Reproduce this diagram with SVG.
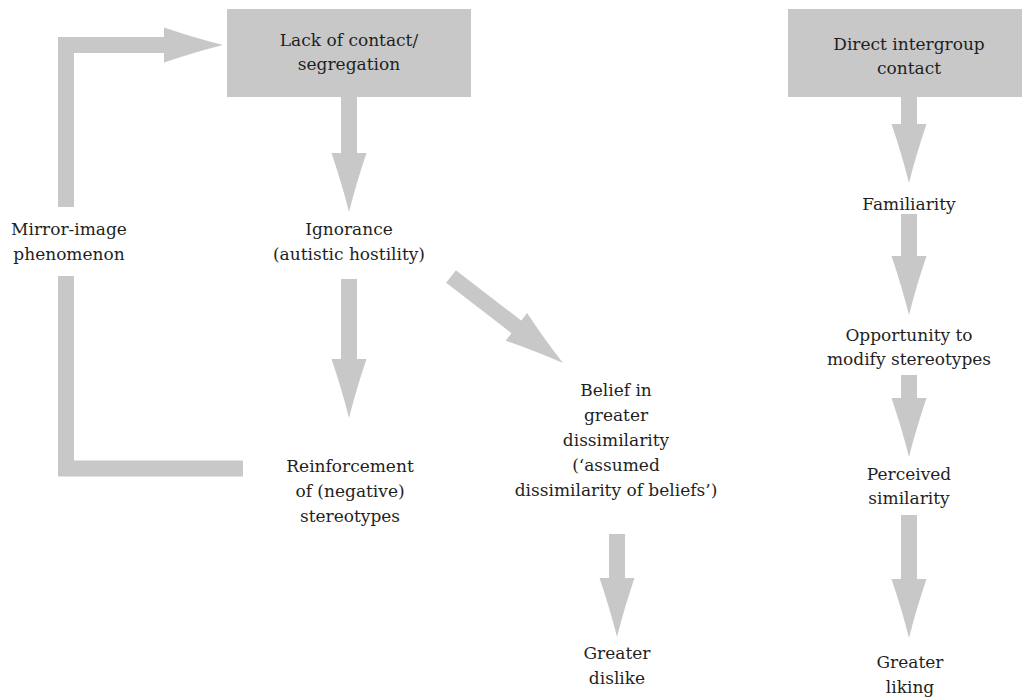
<svg xmlns="http://www.w3.org/2000/svg" xmlns:xlink="http://www.w3.org/1999/xlink" width="1022" height="699" viewBox="0 0 1022 699">
  <style>
    .box { fill: #c8c8c8; }
    .shaft { stroke: #c8c8c8; stroke-width: 16; fill: none; stroke-linecap: butt; }
    .head { fill: #c8c8c8; }
    .lbl { font-family: 'DejaVu Serif', 'Liberation Serif', serif; font-size: 17px; fill: #1f1f1f; text-anchor: middle; }
  </style>
  <defs>
    <!-- arrowhead pointing down, tip at origin, slightly concave flanks -->
    <path id="head" class="head" d="M -17.5,-59 L 17.5,-59 Q 7,-28 0,0 Q -7,-28 -17.5,-59 Z"/>
  </defs>

  <rect width="1022" height="699" fill="#ffffff"/>

  <g id="connectors">
    <!-- Lack of contact -> Ignorance -->
    <line class="shaft" x1="349" y1="96" x2="349" y2="156"/>
    <use xlink:href="#head" transform="translate(349,212)"/>
    <!-- Ignorance -> Reinforcement -->
    <line class="shaft" x1="349" y1="279" x2="349" y2="362"/>
    <use xlink:href="#head" transform="translate(349,418)"/>
    <!-- Ignorance -> Belief in greater dissimilarity -->
    <line class="shaft" x1="451" y1="276.5" x2="521" y2="330.5"/>
    <use xlink:href="#head" transform="translate(563,363) rotate(-52.2)"/>
    <!-- Belief -> Greater dislike -->
    <line class="shaft" x1="617" y1="534" x2="617" y2="581"/>
    <use xlink:href="#head" transform="translate(617,637)"/>
    <!-- Mirror-image loop back to Lack of contact -->
    <path class="shaft" d="M 243,468.5 L 66,468.5 L 66,276"/>
    <path class="shaft" d="M 66,207 L 66,45 L 169,45"/>
    <use xlink:href="#head" transform="translate(223,45) rotate(-90)"/>
    <!-- right column -->
    <line class="shaft" x1="909" y1="96" x2="909" y2="126"/>
    <use xlink:href="#head" transform="translate(909,183)"/>
    <line class="shaft" x1="909" y1="214" x2="909" y2="259"/>
    <use xlink:href="#head" transform="translate(909,315)"/>
    <line class="shaft" x1="909" y1="375" x2="909" y2="401"/>
    <use xlink:href="#head" transform="translate(909,457)"/>
    <line class="shaft" x1="909" y1="515" x2="909" y2="582"/>
    <use xlink:href="#head" transform="translate(909,638)"/>
  </g>

  <g id="lack-of-contact" class="lbl">
    <rect class="box" x="227" y="9" width="244" height="88"/>
    <text x="349" y="46">Lack of contact/</text>
    <text x="349" y="70">segregation</text>
  </g>
  <g id="ignorance" class="lbl">
    <text x="349" y="235">Ignorance</text>
    <text x="349" y="260">(autistic hostility)</text>
  </g>
  <g id="mirror-image" class="lbl">
    <text x="69" y="235">Mirror-image</text>
    <text x="69" y="260">phenomenon</text>
  </g>
  <g id="reinforcement" class="lbl">
    <text x="350" y="472">Reinforcement</text>
    <text x="350" y="497">of (negative)</text>
    <text x="350" y="522">stereotypes</text>
  </g>
  <g id="belief" class="lbl">
    <text x="616" y="396">Belief in</text>
    <text x="616" y="421">greater</text>
    <text x="616" y="446">dissimilarity</text>
    <text x="616" y="471">(‘assumed</text>
    <text x="616" y="496">dissimilarity of beliefs’)</text>
  </g>
  <g id="greater-dislike" class="lbl">
    <text x="617" y="659">Greater</text>
    <text x="617" y="684">dislike</text>
  </g>
  <g id="direct-contact" class="lbl">
    <rect class="box" x="788" y="9" width="244" height="88"/>
    <text x="909" y="50">Direct intergroup</text>
    <text x="909" y="74">contact</text>
  </g>
  <g id="familiarity" class="lbl">
    <text x="909" y="210">Familiarity</text>
  </g>
  <g id="opportunity" class="lbl">
    <text x="909" y="341">Opportunity to</text>
    <text x="909" y="365">modify stereotypes</text>
  </g>
  <g id="perceived-similarity" class="lbl">
    <text x="909" y="480">Perceived</text>
    <text x="909" y="504">similarity</text>
  </g>
  <g id="greater-liking" class="lbl">
    <text x="910" y="668">Greater</text>
    <text x="910" y="693">liking</text>
  </g>
</svg>
